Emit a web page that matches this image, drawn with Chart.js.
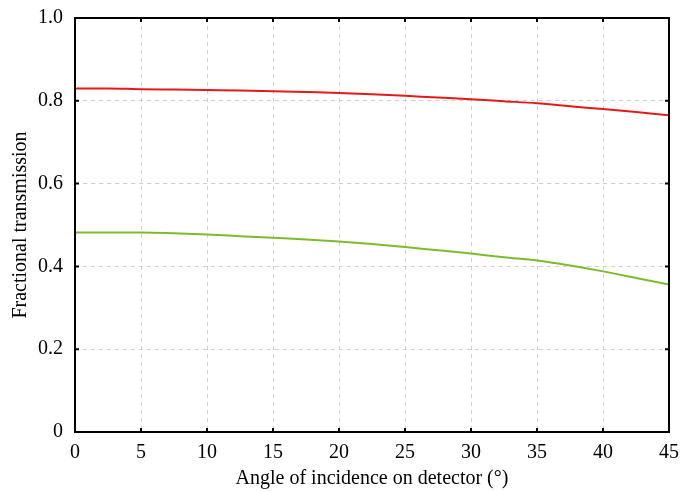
<!DOCTYPE html>
<html>
<head>
<meta charset="utf-8">
<script src="https://cdn.jsdelivr.net/npm/chart.js@4/dist/chart.umd.min.js"></script>
<style>
  html, body { margin: 0; padding: 0; background: #fff; }
  #wrap { width: 684px; height: 491px; }
</style>
</head>
<body>
<div id="wrap"><canvas id="c"></canvas></div>
<script>
// 入射角 (度)
const angles = [0, 2.5, 5, 7.5, 10, 12.5, 15, 17.5, 20, 22.5, 25, 27.5, 30, 32.5, 35, 37.5, 40, 42.5, 45];
// 上の曲線 (赤)
const redSeries = [0.830, 0.830, 0.828, 0.827, 0.826, 0.825, 0.823, 0.821, 0.819, 0.816, 0.812, 0.808, 0.804, 0.799, 0.794, 0.787, 0.780, 0.773, 0.765];
// 下の曲線 (緑)
const greenSeries = [0.482, 0.482, 0.482, 0.480, 0.477, 0.473, 0.469, 0.465, 0.460, 0.454, 0.447, 0.439, 0.431, 0.422, 0.414, 0.402, 0.388, 0.372, 0.356];
const xTicks = [0, 5, 10, 15, 20, 25, 30, 35, 40, 45];
const yTicks = [0, 0.2, 0.4, 0.6, 0.8, 1.0];

const font = { family: '"Liberation Serif", "Times New Roman", serif', size: 20 };

// 枠と内向きの目盛りを描く
const framePlugin = {
  id: 'frame',
  afterDraw(chart) {
    const { ctx, chartArea: a, scales } = chart;
    ctx.save();
    ctx.strokeStyle = '#000';
    ctx.lineWidth = 2;
    ctx.strokeRect(a.left, a.top, a.right - a.left, a.bottom - a.top);
    ctx.beginPath();
    xTicks.forEach(v => {
      const x = scales.x.getPixelForValue(v);
      ctx.moveTo(x, a.bottom); ctx.lineTo(x, a.bottom - 4);
      ctx.moveTo(x, a.top); ctx.lineTo(x, a.top + 4);
    });
    yTicks.forEach(v => {
      const y = scales.y.getPixelForValue(v);
      ctx.moveTo(a.left, y); ctx.lineTo(a.left + 4, y);
      ctx.moveTo(a.right, y); ctx.lineTo(a.right - 4, y);
    });
    ctx.stroke();
    ctx.restore();
  }
};

new Chart(document.getElementById('c'), {
  type: 'line',
  data: {
    datasets: [
      { data: angles.map((a, i) => ({ x: a, y: redSeries[i] })), borderColor: '#e31a1c', borderWidth: 2, pointRadius: 0, cubicInterpolationMode: 'monotone' },
      { data: angles.map((a, i) => ({ x: a, y: greenSeries[i] })), borderColor: '#7dbb2c', borderWidth: 2, pointRadius: 0, cubicInterpolationMode: 'monotone' }
    ]
  },
  options: {
    responsive: true,
    maintainAspectRatio: false,
    animation: false,
    layout: { padding: { top: 18, right: 15, left: 9, bottom: 0 } },
    plugins: { legend: { display: false }, tooltip: { enabled: false } },
    scales: {
      x: {
        type: 'linear', min: 0, max: 45,
        afterBuildTicks: s => { s.ticks = xTicks.map(v => ({ value: v })); },
        afterFit: s => { s.height = 59; s.paddingLeft = 0; s.paddingRight = 0; },
        grid: { color: '#cfcfcf', drawTicks: false },
        border: { display: false, dash: [4, 4] },
        ticks: { color: '#000', font: font, padding: 9, maxRotation: 0, callback: v => String(v) },
        title: { display: true, text: 'Angle of incidence on detector (°)', color: '#000', font: font, padding: { top: 0, bottom: 0 } }
      },
      y: {
        type: 'linear', min: 0, max: 1,
        afterBuildTicks: s => { s.ticks = yTicks.map(v => ({ value: v })); },
        afterFit: s => { s.width = 66; s.paddingTop = 0; s.paddingBottom = 0; },
        grid: { color: '#cfcfcf', drawTicks: false },
        border: { display: false, dash: [4, 4] },
        ticks: { color: '#000', font: font, padding: 12, callback: v => (v === 0 ? '0' : v.toFixed(1)) },
        title: { display: true, text: 'Fractional transmission', color: '#000', font: font, padding: { top: 0, bottom: 4 } }
      }
    }
  },
  plugins: [framePlugin]
});
</script>
</body>
</html>
